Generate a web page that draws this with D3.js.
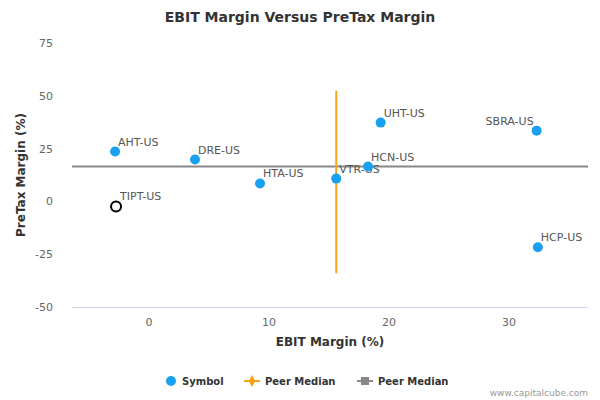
<!DOCTYPE html>
<html lang="en">
<head>
<script src="https://d3js.org/d3.v7.min.js"></script>
<style>body{margin:0;font-family:"DejaVu Sans",sans-serif;}</style>
</head>
<body>
<div id="chart"></div>
<script>
var symbols = ["AHT-US","DRE-US","HTA-US","VTR-US","HCN-US","UHT-US","SBRA-US","HCP-US"];
var ebit =    [-2.83, 3.83, 9.25, 15.6, 18.25, 19.3, 32.3, 32.4];
var pretax =  [23.6, 19.8, 8.5, 10.8, 16.5, 37.3, 33.5, -21.7];
var subject = {name: "TIPT-US", ebit: -2.75, pretax: -2.4};
var medianX = 15.6, medianXRange = [-34, 52.4];
var medianY = 16.5;
var xTicks = [0, 10, 20, 30];
var yTicks = [-50, -25, 0, 25, 50, 75];

var width = 600, height = 400;
var svg = d3.select("#chart").append("svg").attr("width", width).attr("height", height);
var x = d3.scaleLinear().domain([-6.42, 36.58]).range([72, 588]);
var y = d3.scaleLinear().domain([-50, 75]).range([307, 43]);

svg.append("text").attr("x", 300).attr("y", 22).attr("text-anchor", "middle")
  .attr("font-size", 14).attr("font-weight", "bold").attr("fill", "#333")
  .text("EBIT Margin Versus PreTax Margin");

svg.append("line").attr("x1", 72).attr("x2", 588).attr("y1", 307.5).attr("y2", 307.5).attr("stroke", "#ccd6eb");
xTicks.forEach(function(t) {
  svg.append("text").attr("x", x(t)).attr("y", 326).attr("text-anchor", "middle")
    .attr("font-size", 11).attr("fill", "#666").text(t);
});
yTicks.forEach(function(t) {
  svg.append("text").attr("x", 53).attr("y", y(t) + 4).attr("text-anchor", "end")
    .attr("font-size", 11).attr("fill", "#666").text(t);
});
svg.append("text").attr("x", 330).attr("y", 346).attr("text-anchor", "middle")
  .attr("font-size", 12).attr("font-weight", "bold").attr("fill", "#333").text("EBIT Margin (%)");
svg.append("text").attr("transform", "translate(25," + y(12.5) + ") rotate(-90)").attr("text-anchor", "middle")
  .attr("font-size", 12).attr("font-weight", "bold").attr("fill", "#333").text("PreTax Margin (%)");

svg.append("line").attr("x1", 72).attr("x2", 588).attr("y1", y(medianY)).attr("y2", y(medianY))
  .attr("stroke", "#888").attr("stroke-width", 2);
svg.append("line").attr("x1", x(medianX)).attr("x2", x(medianX)).attr("y1", y(medianXRange[0])).attr("y2", y(medianXRange[1]))
  .attr("stroke", "#f7a21b").attr("stroke-width", 2);

symbols.forEach(function(s, i) {
  svg.append("circle").attr("cx", x(ebit[i])).attr("cy", y(pretax[i])).attr("r", 5).attr("fill", "#1aa0f0");
  var anchor = s === "SBRA-US" ? "end" : "start";
  var dx = s === "SBRA-US" ? -3 : 3;
  svg.append("text").attr("x", x(ebit[i]) + dx).attr("y", y(pretax[i]) - 6).attr("text-anchor", anchor)
    .attr("font-size", 11).attr("fill", "#555").text(s);
});
svg.append("circle").attr("cx", x(subject.ebit)).attr("cy", y(subject.pretax)).attr("r", 5)
  .attr("fill", "none").attr("stroke", "#000").attr("stroke-width", 2);
svg.append("text").attr("x", x(subject.ebit) + 4).attr("y", y(subject.pretax) - 6)
  .attr("font-size", 11).attr("fill", "#555").text(subject.name);

var lg = svg.append("g").attr("font-size", 10).attr("font-weight", "bold").attr("fill", "#333");
lg.append("circle").attr("cx", 171).attr("cy", 381).attr("r", 5).attr("fill", "#1aa0f0");
lg.append("text").attr("x", 182).attr("y", 385).text("Symbol");
lg.append("line").attr("x1", 244).attr("x2", 260).attr("y1", 381).attr("y2", 381).attr("stroke", "#f7a21b").attr("stroke-width", 2);
lg.append("path").attr("d", d3.symbol(d3.symbolDiamond, 40)()).attr("transform", "translate(252,381)").attr("fill", "#f7a21b");
lg.append("text").attr("x", 265).attr("y", 385).text("Peer Median");
lg.append("line").attr("x1", 357).attr("x2", 373).attr("y1", 381).attr("y2", 381).attr("stroke", "#888").attr("stroke-width", 2);
lg.append("rect").attr("x", 361).attr("y", 377).attr("width", 8).attr("height", 8).attr("fill", "#888");
lg.append("text").attr("x", 378).attr("y", 385).text("Peer Median");

svg.append("text").attr("x", 588).attr("y", 396).attr("text-anchor", "end")
  .attr("font-size", 9).attr("fill", "#999").text("www.capitalcube.com");
</script>
</body>
</html>
